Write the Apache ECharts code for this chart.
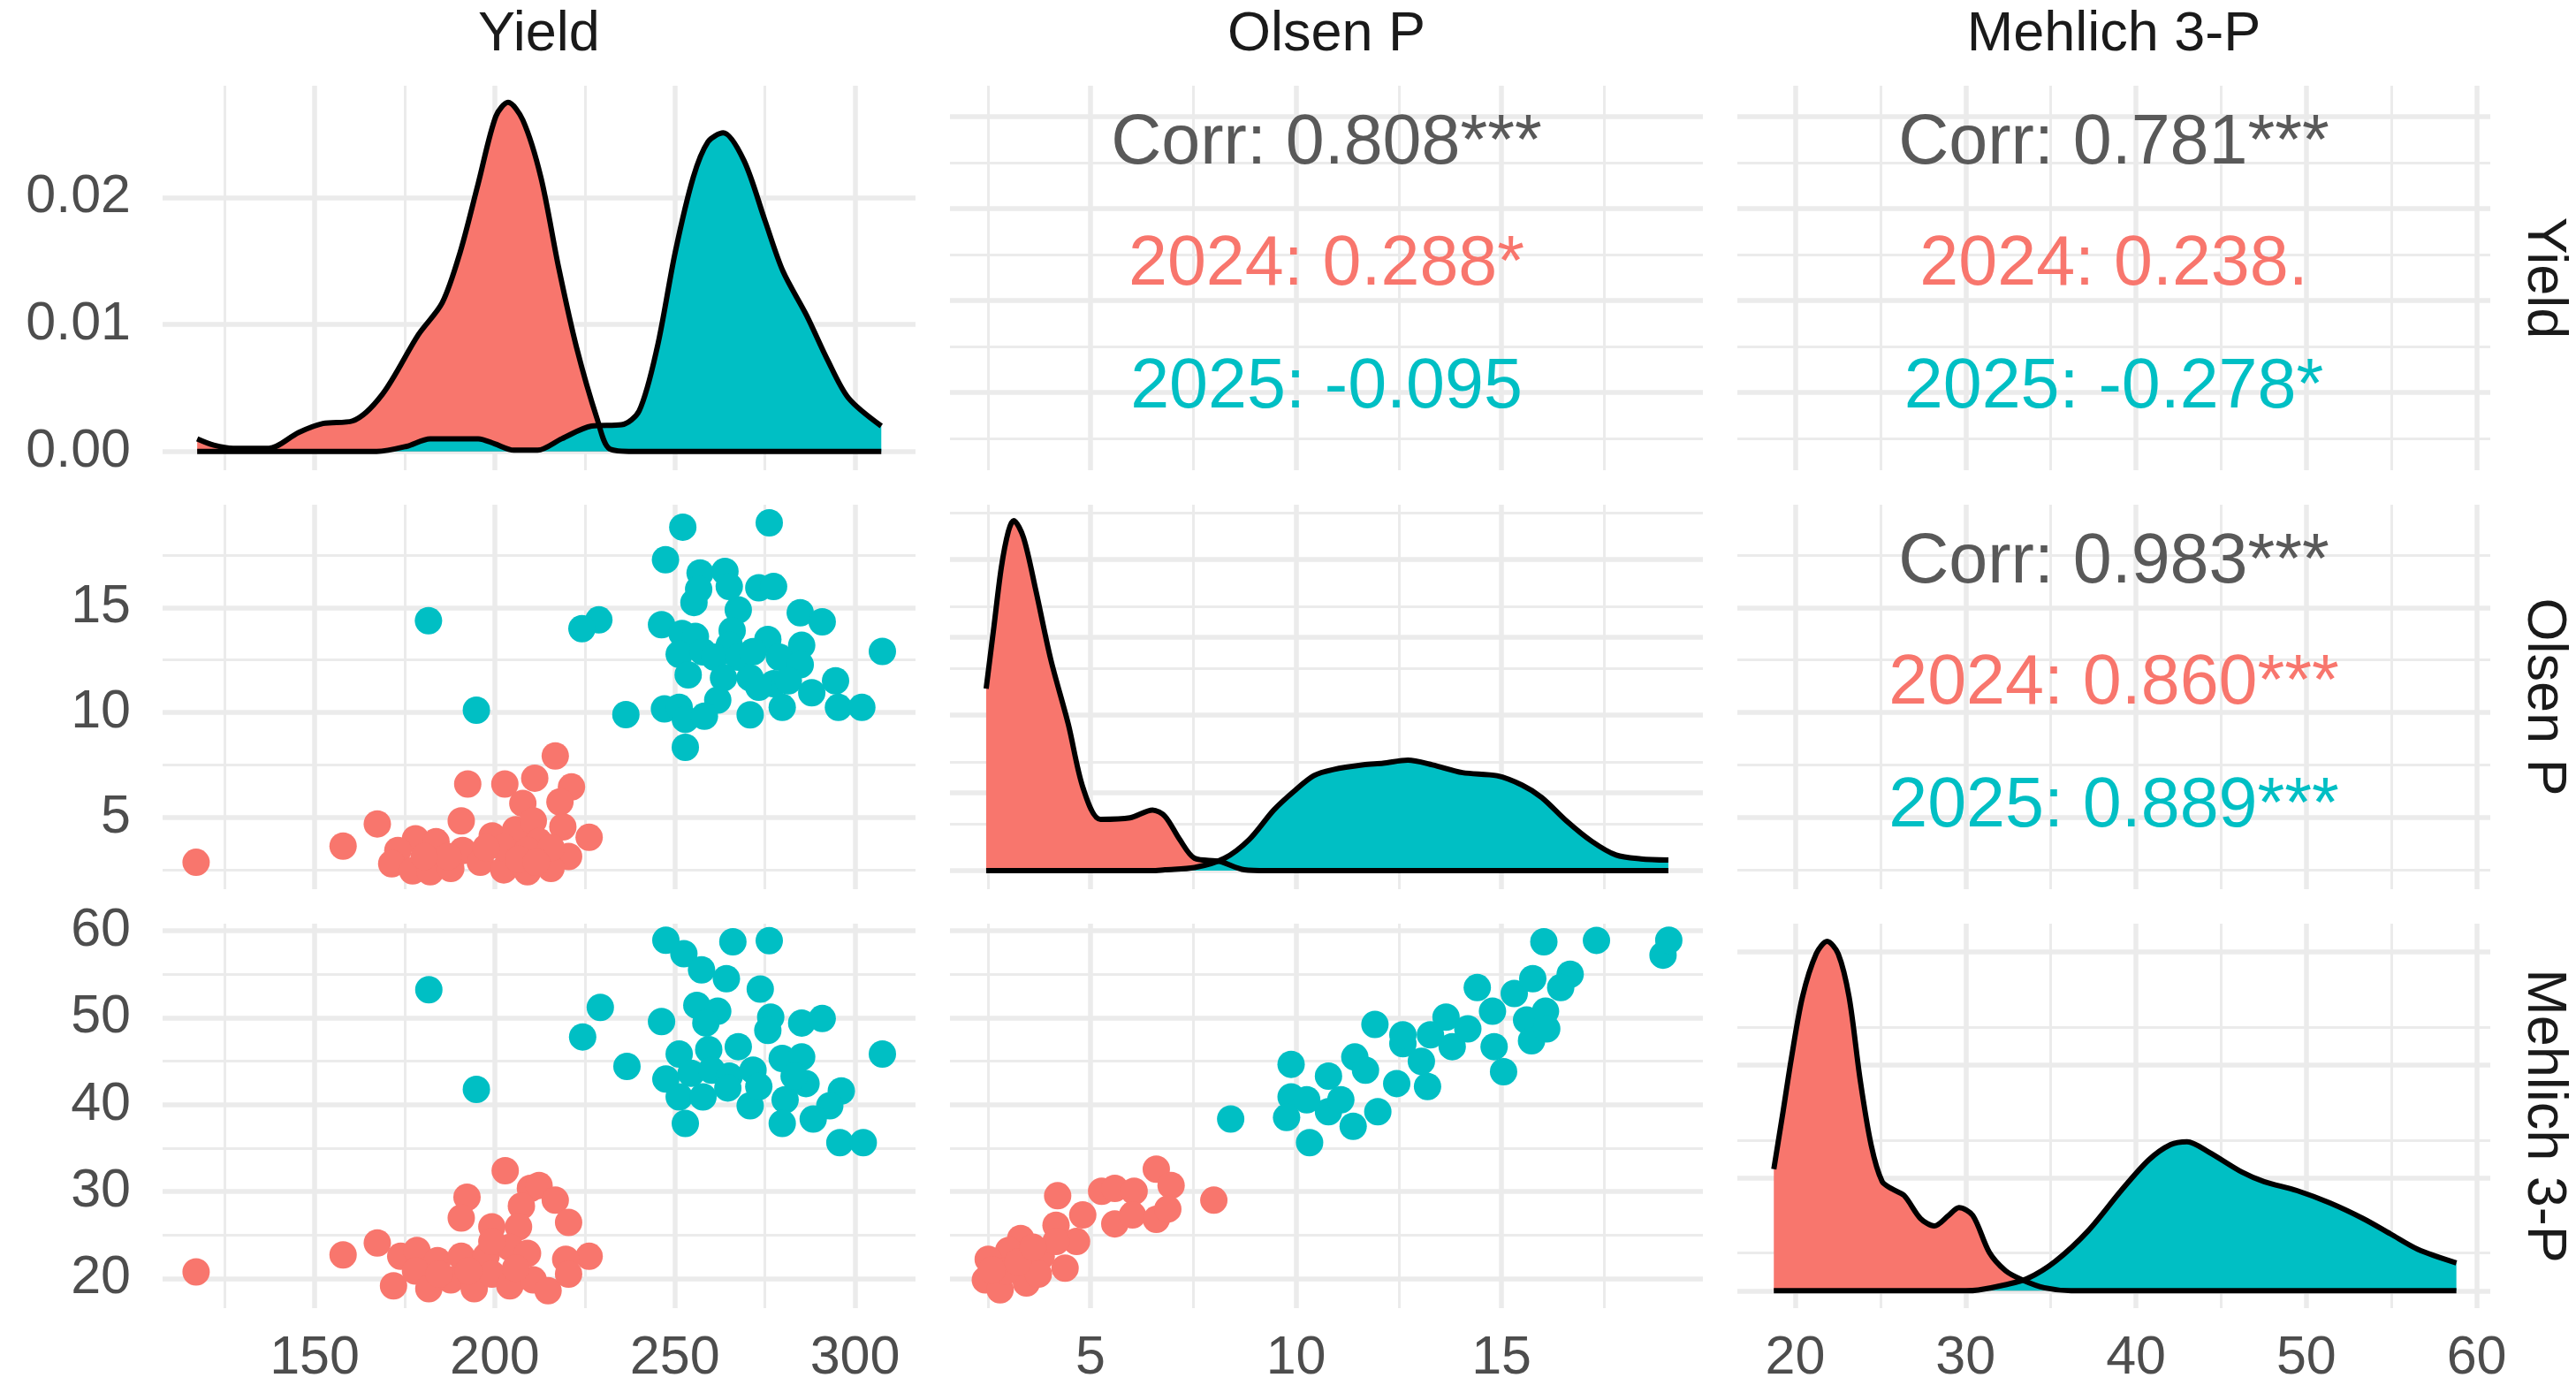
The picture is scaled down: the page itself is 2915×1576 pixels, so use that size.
<!DOCTYPE html>
<html>
<head>
<meta charset="utf-8">
<title>Yield / Olsen P / Mehlich 3-P pairs</title>
<script src="https://cdn.jsdelivr.net/npm/echarts@6/dist/echarts.min.js"></script>
<style>
  html, body { margin: 0; padding: 0; background: #fff; }
  #chart { width: 2915px; height: 1576px; }
</style>
</head>
<body>
<div id="chart"></div>
<script>
// variables, axis limits and breaks
var varNames = ['Yield', 'Olsen P', 'Mehlich 3-P'];
var varRanges = [[107.8, 316.8], [1.58, 19.9], [16.6, 60.8]];
var varMajor = [[150, 200, 250, 300], [5, 10, 15], [20, 30, 40, 50, 60]];
var varMinor = [[125, 175, 225, 275], [2.5, 7.5, 12.5, 17.5], [25, 35, 45, 55]];
var densRanges = [[-0.00148, 0.02881], [-0.0119, 0.2352], [-0.00462, 0.0975]];
var densMajor = [[0, 0.01, 0.02], [0, 0.05, 0.1, 0.15, 0.2], [0, 0.03, 0.06, 0.09]];
var densMinor = [[0.005, 0.015, 0.025], [0.025, 0.075, 0.125, 0.175, 0.225], [0.015, 0.045, 0.075]];

// density curves [x, density]
var yieldDens2024 = [[117.4,0.0010],[122,0.0005],[127.4,0.00025],[137.3,0.00025],[145.6,0.0015],[152.3,0.0022],[160.5,0.0024],[168.8,0.0045],[178.8,0.0092],[185.4,0.0117],[190.4,0.0157],[195.4,0.0211],[200.3,0.0264],[203.7,0.0275],[207.8,0.0261],[212.8,0.0216],[217.8,0.0144],[222.7,0.0082],[228.5,0.0025],[231.9,0.0002],[238.5,0],[307.3,0]];
var yieldDens2025 = [[117.4,0],[167.2,0],[175.5,0.0004],[182.1,0.001],[195.4,0.001],[200,0.0006],[205.3,0.0001],[211.9,0.0001],[218.6,0.001],[226.9,0.002],[235.2,0.0021],[240.1,0.0032],[245.1,0.0082],[250.1,0.0157],[255.1,0.0216],[259.2,0.0244],[263.4,0.0251],[269.2,0.0229],[275.0,0.0182],[280.0,0.0142],[286.6,0.0107],[292.4,0.0072],[298.2,0.0042],[307.3,0.002]];
var olsenDens2024 = [[2.46,0.117],[2.65,0.157],[2.83,0.195],[3.0,0.218],[3.13,0.225],[3.37,0.214],[3.67,0.18],[4.03,0.136],[4.46,0.094],[4.82,0.053],[5.24,0.033],[5.96,0.034],[6.51,0.039],[6.81,0.035],[7.17,0.02],[7.53,0.008],[8.14,0.006],[8.74,0.0006],[9.3,0],[19.06,0]];
var olsenDens2025 = [[2.46,0],[6.5,0],[6.81,0.0006],[7.53,0.002],[8.26,0.008],[8.86,0.02],[9.46,0.039],[9.95,0.051],[10.43,0.061],[10.91,0.065],[11.64,0.068],[12.12,0.069],[12.72,0.071],[13.32,0.068],[14.05,0.063],[14.89,0.061],[15.5,0.055],[15.98,0.047],[16.58,0.032],[17.19,0.019],[17.79,0.010],[18.39,0.0076],[19.06,0.0068]];
var mehlichDens2024 = [[18.74,0.0323],[19.29,0.0478],[19.77,0.0617],[20.42,0.078],[21.23,0.0895],[21.87,0.0928],[22.52,0.0895],[23.16,0.078],[23.81,0.056],[24.45,0.0388],[25.1,0.029],[25.7,0.027],[26.39,0.0253],[27.35,0.0192],[28.16,0.0172],[29.0,0.020],[29.61,0.0221],[30.42,0.02],[31.39,0.0102],[32.35,0.0053],[33.32,0.0029],[34.61,0.0008],[36.2,0],[58.81,0]];
var mehlichDens2025 = [[18.74,0],[30.0,0],[30.74,0.0002],[32.35,0.0016],[33.65,0.0033],[35.26,0.0078],[37.19,0.0159],[39.13,0.0266],[40.74,0.0347],[42.03,0.0388],[43.0,0.0396],[44.29,0.0368],[46.23,0.0315],[47.52,0.029],[49.45,0.0266],[51.39,0.0233],[53.32,0.0192],[54.94,0.0151],[56.55,0.011],[58.81,0.0074]];

// scatter points [x, y]
var olsenVsYield2024 = [[117.1,2.86],[157.9,3.63],[167.4,4.69],[192.5,6.59],[202.8,6.59],[216.8,7.93],[211.1,6.87],[221.3,6.45],[207.8,5.67],[218.1,5.74],[190.7,4.83],[226.2,4.05],[218.9,4.55],[199.3,4.12],[205.8,4.41],[210.7,4.83],[212.3,3.84],[220.5,3.14],[178.0,3.98],[183.7,3.84],[173.1,3.42],[171.4,2.79],[177.2,2.45],[182.1,2.41],[187.8,2.57],[191.1,3.42],[196.0,2.86],[202.5,2.5],[209.1,2.41],[215.6,2.57],[202.5,3.56],[209.1,3.42],[215.6,3.56],[187.0,3.14],[197.6,3.56],[206.6,3.0],[180.4,3.14],[211.5,2.86]];
var olsenVsYield2025 = [[252.2,18.83],[276.2,19.04],[247.4,17.28],[257.0,16.65],[263.9,16.72],[255.3,15.24],[256.6,15.87],[273.3,15.94],[277.4,16.0],[267.6,14.89],[265.1,16.0],[284.8,14.75],[290.9,14.32],[246.3,14.18],[307.6,12.91],[252.0,13.76],[255.7,13.62],[251.2,12.77],[257.8,12.89],[265.9,13.9],[265.1,13.2],[275.8,13.48],[285.2,13.2],[261.0,12.63],[267.6,12.63],[271.7,12.9],[279.0,12.63],[284.8,12.28],[253.7,11.79],[263.5,11.65],[270.9,11.65],[277.4,11.37],[281.5,11.51],[288.0,10.94],[294.6,11.51],[295.4,10.24],[301.9,10.24],[261.9,10.59],[247.1,10.17],[251.2,10.24],[252.9,9.67],[258.2,9.82],[270.9,9.89],[279.8,10.24],[252.9,8.34],[273.3,11.2],[181.6,14.37],[194.9,10.11],[228.9,14.41],[224.2,13.99],[236.4,9.9]];
var mehlichVsYield2024 = [[117.1,20.76],[157.9,22.73],[167.4,24.09],[171.9,19.17],[192.3,29.35],[190.7,26.97],[202.9,32.4],[209.9,30.37],[212.3,30.71],[216.8,29.01],[220.5,26.46],[207.4,28.33],[199.2,25.95],[206.6,25.95],[226.2,22.56],[219.7,22.22],[173.9,22.56],[178.4,23.24],[184.1,22.05],[190.7,22.56],[197.6,22.56],[204.2,23.58],[209.1,22.9],[178.0,20.86],[181.7,18.83],[187.8,19.84],[194.3,18.83],[199.2,20.52],[204.2,19.17],[210.7,19.84],[214.8,18.6],[220.5,20.52],[199.2,24.26],[205.8,21.2],[192.7,20.86],[184.5,20.52]];
var mehlichVsYield2025 = [[247.5,58.9],[266.1,58.71],[276.2,58.85],[252.5,57.35],[257.4,55.49],[264.3,54.47],[273.7,53.28],[256.1,51.41],[261.9,50.73],[246.3,49.55],[276.6,50.06],[275.8,48.53],[285.2,49.38],[290.9,49.89],[267.6,46.66],[258.6,49.38],[307.6,45.81],[251.2,45.81],[259.4,46.32],[279.8,45.3],[285.2,45.47],[247.5,42.93],[254.5,43.6],[260.2,43.95],[265.1,43.27],[271.7,43.95],[286.4,42.42],[251.2,40.89],[257.8,40.89],[264.7,41.91],[270.9,39.87],[280.6,40.55],[296.2,41.57],[293.0,39.87],[252.9,37.83],[279.8,37.83],[288.4,38.34],[295.8,35.63],[302.3,35.63],[273.3,42.08],[283.1,43.27],[181.7,53.21],[194.9,41.74],[229.3,51.17],[224.4,47.78],[236.7,44.39]];
var mehlichVsOlsen2024 = [[4.2,29.52],[6.6,32.57],[6.96,30.71],[8.0,29.01],[5.27,30.03],[5.59,30.37],[6.06,30.03],[4.81,27.31],[4.16,26.12],[5.59,26.29],[6.02,27.31],[6.6,26.8],[6.88,27.99],[3.3,24.6],[4.66,24.26],[4.38,21.2],[3.8,22.56],[3.01,23.24],[2.51,22.22],[2.44,19.84],[2.8,18.7],[3.44,19.5],[2.94,20.86],[3.73,20.52],[3.23,21.88],[4.16,24.26],[2.6,21.0],[3.6,23.6]];
var mehlichVsOlsen2025 = [[8.41,38.34],[11.92,49.21],[9.88,44.63],[11.43,45.47],[11.69,43.95],[9.88,40.89],[9.77,38.51],[10.33,35.63],[10.79,43.27],[10.79,39.19],[11.39,37.5],[11.99,39.19],[10.26,40.55],[12.45,42.42],[12.6,47.0],[13.2,42.08],[13.05,44.97],[13.65,50.06],[13.8,46.66],[14.18,48.7],[14.41,53.45],[14.82,46.66],[15.05,43.78],[15.31,52.77],[15.61,49.72],[15.76,54.47],[16.03,58.71],[16.07,50.73],[15.73,47.34],[16.1,48.7],[16.67,54.98],[17.31,58.88],[18.93,57.18],[19.07,58.9],[14.78,50.73],[13.27,48.02],[12.6,48.02],[11.09,40.55],[16.44,53.45]];

// correlation text for upper panels
var corrCells = [[0, 1], [0, 2], [1, 2]];
var corrAll = ['Corr: 0.808***', 'Corr: 0.781***', 'Corr: 0.983***'];
var corr2024 = ['2024: 0.288*', '2024: 0.238.', '2024: 0.860***'];
var corr2025 = ['2025: -0.095', '2025: -0.278*', '2025: 0.889***'];

var RED = '#F8766D', TEAL = '#00BFC4';
var FONT = '"Liberation Sans", Arial, sans-serif';
var colLeft = [184, 1075, 1966];
var rowTop = [97, 571, 1045];
var panelW = 852, panelH = 435;

function makeAxis(i, range, labels, isX, fixed2) {
  return {
    type: 'value', gridIndex: i, min: range[0], max: range[1],
    axisLine: { show: false }, axisTick: { show: false }, splitLine: { show: false },
    axisLabel: labels ? {
      show: true, customValues: labels, margin: isX ? 27 : 36,
      color: '#4D4D4D', fontSize: 61, fontFamily: FONT,
      formatter: function (v) { return fixed2 ? Number(v).toFixed(2) : String(v); }
    } : { show: false }
  };
}

function gridSeries(i, xMaj, xMin, yMaj, yMin) {
  var lines = [];
  xMin.forEach(function (v) { lines.push({ xAxis: v, lineStyle: { width: 3 } }); });
  yMin.forEach(function (v) { lines.push({ yAxis: v, lineStyle: { width: 3 } }); });
  xMaj.forEach(function (v) { lines.push({ xAxis: v, lineStyle: { width: 5.5 } }); });
  yMaj.forEach(function (v) { lines.push({ yAxis: v, lineStyle: { width: 5.5 } }); });
  return {
    type: 'line', xAxisIndex: i, yAxisIndex: i, data: [], silent: true, z: 1,
    markLine: {
      silent: true, z: 1, animation: false, symbol: ['none', 'none'],
      label: { show: false }, emphasis: { disabled: true },
      lineStyle: { color: '#EBEBEB', type: 'solid' },
      data: lines
    }
  };
}

function densSeries(i, data, color) {
  return {
    type: 'line', xAxisIndex: i, yAxisIndex: i, data: data, z: 2,
    showSymbol: false, symbol: 'none', smooth: 0.3,
    lineStyle: { color: '#000', width: 6 },
    areaStyle: { color: color, opacity: 1 }
  };
}

function pointSeries(i, data, color) {
  return {
    type: 'scatter', xAxisIndex: i, yAxisIndex: i, data: data, z: 3,
    symbolSize: 31, itemStyle: { color: color, opacity: 1 }
  };
}

var grids = [], xAxes = [], yAxes = [], series = [];
for (let r = 0; r < 3; r++) {
  for (let c = 0; c < 3; c++) {
    const i = r * 3 + c;
    const diag = r === c;
    grids.push({ left: colLeft[c], top: rowTop[r], width: panelW, height: panelH });
    const yRange = diag ? densRanges[r] : varRanges[r];
    const yMaj = diag ? densMajor[r] : varMajor[r];
    const yMin = diag ? densMinor[r] : varMinor[r];
    xAxes.push(makeAxis(i, varRanges[c], r === 2 ? varMajor[c] : null, true, false));
    yAxes.push(makeAxis(i, yRange, c === 0 ? yMaj : null, false, r === 0 && c === 0));
    series.push(gridSeries(i, varMajor[c], varMinor[c], yMaj, yMin));
  }
}

// diagonal densities
series.push(densSeries(0, yieldDens2024, RED), densSeries(0, yieldDens2025, TEAL));
series.push(densSeries(4, olsenDens2024, RED), densSeries(4, olsenDens2025, TEAL));
series.push(densSeries(8, mehlichDens2024, RED), densSeries(8, mehlichDens2025, TEAL));
// lower scatter panels
series.push(pointSeries(3, olsenVsYield2024, RED), pointSeries(3, olsenVsYield2025, TEAL));
series.push(pointSeries(6, mehlichVsYield2024, RED), pointSeries(6, mehlichVsYield2025, TEAL));
series.push(pointSeries(7, mehlichVsOlsen2024, RED), pointSeries(7, mehlichVsOlsen2025, TEAL));

// strip labels and correlation text
var graphics = [];
varNames.forEach(function (name, k) {
  graphics.push({
    type: 'text', x: colLeft[k] + panelW / 2, y: 40, z: 100,
    style: { text: name, fill: '#1A1A1A', font: '63px ' + FONT, align: 'center', verticalAlign: 'middle' }
  });
  graphics.push({
    type: 'text', x: 2878, y: rowTop[k] + panelH / 2, rotation: -Math.PI / 2, z: 100,
    style: { text: name, fill: '#1A1A1A', font: '63px ' + FONT, align: 'center', verticalAlign: 'middle' }
  });
});
corrCells.forEach(function (cell, k) {
  var cx = colLeft[cell[1]] + panelW / 2;
  var top = rowTop[cell[0]];
  [[corrAll[k], '#595959', 66], [corr2024[k], RED, 203], [corr2025[k], TEAL, 342]].forEach(function (t) {
    graphics.push({
      type: 'text', x: cx, y: top + t[2], z: 100,
      style: { text: t[0], fill: t[1], font: '79px ' + FONT, align: 'center', verticalAlign: 'middle' }
    });
  });
});

var chart = echarts.init(document.getElementById('chart'));
chart.setOption({
  animation: false,
  backgroundColor: '#FFFFFF',
  grid: grids,
  xAxis: xAxes,
  yAxis: yAxes,
  series: series,
  graphic: graphics
});
</script>
</body>
</html>
